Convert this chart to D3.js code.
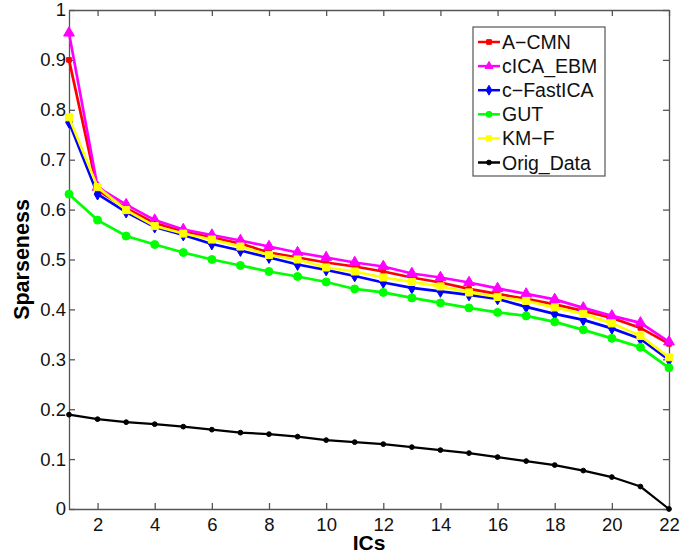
<!DOCTYPE html>
<html>
<head>
<meta charset="utf-8">
<script src="https://cdn.jsdelivr.net/npm/d3@7"></script>
<style>
  body { margin: 0; background: #fff; }
  svg { font-family: "Liberation Sans", Arial, sans-serif; }
</style>
</head>
<body>
<div id="chart"></div>
<script>
"use strict";
// values
const ics = d3.range(1, 23);
const seriesNames = ["A\u2212CMN", "cICA_EBM", "c\u2212FastICA", "GUT", "KM\u2212F", "Orig_Data"];
const aCmn = [0.900, 0.639, 0.603, 0.573, 0.556, 0.544, 0.532, 0.514, 0.504, 0.494, 0.486, 0.476, 0.464, 0.454, 0.441, 0.431, 0.421, 0.410, 0.397, 0.383, 0.363, 0.331];
const cIcaEbm = [0.954, 0.645, 0.610, 0.579, 0.560, 0.549, 0.538, 0.526, 0.514, 0.504, 0.494, 0.486, 0.472, 0.464, 0.454, 0.442, 0.431, 0.420, 0.403, 0.387, 0.373, 0.335];
const cFastIca = [0.775, 0.631, 0.595, 0.565, 0.549, 0.531, 0.518, 0.504, 0.490, 0.479, 0.467, 0.454, 0.443, 0.436, 0.429, 0.421, 0.405, 0.391, 0.379, 0.362, 0.341, 0.299];
const gut = [0.631, 0.579, 0.547, 0.530, 0.514, 0.500, 0.488, 0.476, 0.466, 0.455, 0.441, 0.434, 0.423, 0.413, 0.403, 0.394, 0.387, 0.375, 0.359, 0.342, 0.324, 0.283];
const kmF = [0.785, 0.645, 0.599, 0.567, 0.552, 0.540, 0.526, 0.509, 0.500, 0.484, 0.476, 0.464, 0.455, 0.446, 0.434, 0.425, 0.417, 0.404, 0.391, 0.372, 0.347, 0.304];
const origData = [0.189, 0.180, 0.174, 0.170, 0.165, 0.159, 0.153, 0.150, 0.145, 0.138, 0.134, 0.130, 0.124, 0.118, 0.112, 0.104, 0.096, 0.088, 0.077, 0.064, 0.045, 0.000];
const xTicks = [2, 4, 6, 8, 10, 12, 14, 16, 18, 20, 22];
const yTicks = [0, 0.1, 0.2, 0.3, 0.4, 0.5, 0.6, 0.7, 0.8, 0.9, 1];

const series = [
    { name: seriesNames[0], values: aCmn, color: "#ff0000", marker: "square", size: 22 },
    { name: seriesNames[1], values: cIcaEbm, color: "#ff00ff", marker: "triangle", size: 50 },
    { name: seriesNames[2], values: cFastIca, color: "#0000ff", marker: "diamond", size: 40 },
    { name: seriesNames[3], values: gut, color: "#00ff00", marker: "circle", size: 50 },
    { name: seriesNames[4], values: kmF, color: "#ffff00", marker: "square", size: 50 },
    { name: seriesNames[5], values: origData, color: "#000000", marker: "circle", size: 18 }
];

const width = 693, height = 554;
const margin = { left: 69, right: 24, top: 10, bottom: 45 };
const axisColor = "#555";

const svg = d3.select("#chart").append("svg")
    .attr("width", width)
    .attr("height", height);

const x = d3.scaleLinear().domain([1, 22]).range([margin.left, width - margin.right]);
const y = d3.scaleLinear().domain([0, 1]).range([height - margin.bottom, margin.top]);

const symbolType = {
    square: d3.symbolSquare,
    triangle: d3.symbolTriangle,
    diamond: d3.symbolDiamond,
    circle: d3.symbolCircle
};

// axes, ticks pointing inward, mirrored on top and right
const bottomAxis = d3.axisBottom(x).tickValues(xTicks).tickSizeInner(-6).tickSizeOuter(0).tickPadding(9);
const leftAxis = d3.axisLeft(y).tickValues(yTicks).tickFormat(d3.format("")).tickSizeInner(-6).tickSizeOuter(0).tickPadding(3);
const topAxis = d3.axisTop(x).tickValues(xTicks).tickSizeInner(-6).tickSizeOuter(0).tickFormat("");
const rightAxis = d3.axisRight(y).tickValues(yTicks).tickSizeInner(-6).tickSizeOuter(0).tickFormat("");

function styleAxis(g) {
    g.select(".domain").attr("stroke", axisColor).attr("stroke-width", 1.3);
    g.selectAll(".tick line").attr("stroke", axisColor).attr("stroke-width", 1.3);
    g.selectAll(".tick text").attr("fill", "#111").style("font-size", "18.5px");
}

svg.append("g").attr("transform", `translate(0,${y(0)})`).call(bottomAxis).call(styleAxis);
svg.append("g").attr("transform", `translate(${x(1)},0)`).call(leftAxis).call(styleAxis);
svg.append("g").attr("transform", `translate(0,${y(1)})`).call(topAxis).call(styleAxis);
svg.append("g").attr("transform", `translate(${x(22)},0)`).call(rightAxis).call(styleAxis);

// axis titles
svg.append("text")
    .attr("x", (x(1) + x(22)) / 2)
    .attr("y", 550)
    .attr("text-anchor", "middle")
    .style("font-size", "21px")
    .style("font-weight", "bold")
    .text("ICs");
svg.append("text")
    .attr("transform", `translate(29,${(y(0) + y(1)) / 2}) rotate(-90)`)
    .attr("text-anchor", "middle")
    .style("font-size", "21.5px")
    .style("font-weight", "bold")
    .text("Sparseness");

const line = d3.line()
    .x((d, i) => x(ics[i]))
    .y(d => y(d));

series.forEach(s => {
    const g = svg.append("g");
    g.append("path")
        .datum(s.values)
        .attr("fill", "none")
        .attr("stroke", s.color)
        .attr("stroke-width", s.name === "Orig_Data" ? 2.2 : 2.7)
        .attr("d", line);
    g.selectAll("path.marker")
        .data(s.values)
        .enter()
        .append("path")
        .attr("class", "marker")
        .attr("d", d3.symbol().type(symbolType[s.marker]).size(s.size))
        .attr("transform", (d, i) => `translate(${x(ics[i])},${y(d)})`)
        .attr("fill", s.color)
        .attr("stroke", s.color)
        .attr("stroke-width", 1);
});

// legend
const legend = svg.append("g").attr("transform", "translate(473,27)");
legend.append("rect")
    .attr("width", 132)
    .attr("height", 149)
    .attr("fill", "#fff")
    .attr("stroke", "#555")
    .attr("stroke-width", 1.2);
series.forEach((s, i) => {
    const row = legend.append("g").attr("transform", `translate(0,${15 + i * 24.1})`);
    row.append("line")
        .attr("x1", 5).attr("x2", 27)
        .attr("stroke", s.color)
        .attr("stroke-width", 2.5);
    row.append("path")
        .attr("d", d3.symbol().type(symbolType[s.marker]).size(Math.min(s.size, 28)))
        .attr("transform", "translate(16,0)")
        .attr("fill", s.color)
        .attr("stroke", s.color);
    row.append("text")
        .attr("x", 29)
        .attr("y", 0)
        .attr("dy", "0.36em")
        .style("font-size", "19.5px")
        .attr("fill", "#111")
        .text(s.name);
});
</script>
</body>
</html>
